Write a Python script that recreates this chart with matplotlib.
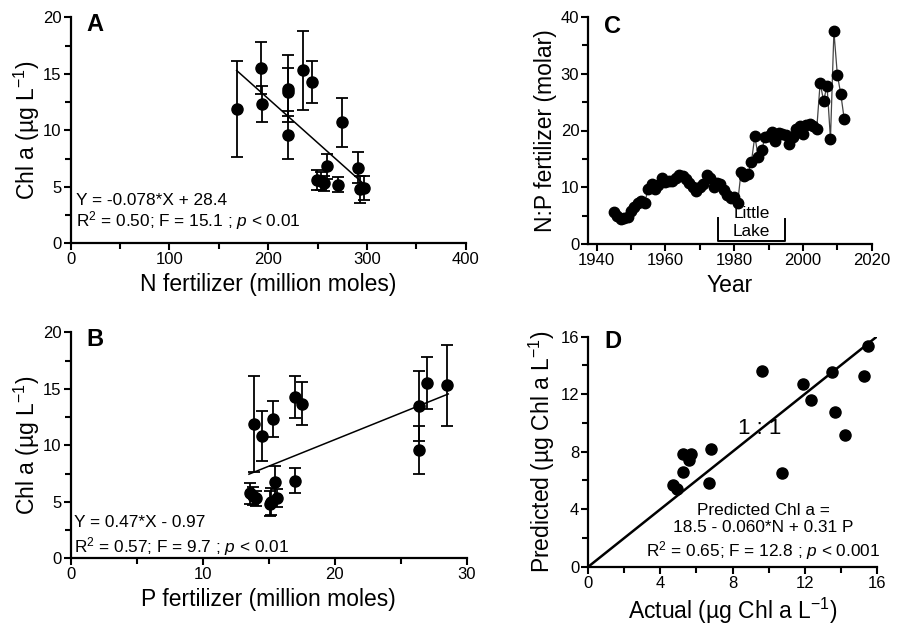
import numpy as np
import matplotlib
matplotlib.use("Agg")
import matplotlib.pyplot as plt
from matplotlib.ticker import MultipleLocator

plt.rcParams['font.family'] = ['Liberation Sans', 'DejaVu Sans']
plt.rcParams['mathtext.fontset'] = 'custom'
plt.rcParams['mathtext.rm'] = 'Liberation Sans'
plt.rcParams['mathtext.it'] = 'Liberation Sans:italic'

# Panel A: N fertilizer vs Chl a (mean +/- error)
n_fert = [168, 193, 194, 220, 220, 220, 235.5, 244.7, 249, 253.6, 256.6, 259, 270.7, 274.7, 290.6, 293, 296.5]
chl_a = [11.9, 15.5, 12.3, 13.7, 13.4, 9.6, 15.3, 14.3, 5.6, 5.5, 5.3, 6.8, 5.2, 10.7, 6.7, 4.8, 4.9]
chl_a_err = [4.25, 2.3, 1.6, 3.0, 2.1, 2.1, 3.5, 1.85, 0.9, 0.8, 0.7, 1.1, 0.7, 2.2, 1.4, 1.2, 1.1]
fit_a = (-0.078, 28.4)

# Panel B: P fertilizer vs Chl a
p_fert = [13.9, 14.5, 15.3, 17.0, 17.5, 26.4, 26.4, 27.0, 28.5, 13.6, 14.0, 15.1, 15.5, 15.6, 17.0, 13.8, 15.2]
chl_b = [11.9, 10.8, 12.35, 14.3, 13.7, 13.5, 9.6, 15.5, 15.3, 5.75, 5.3, 4.85, 6.75, 5.3, 6.85, 5.5, 5.0]
chl_b_err = [4.25, 2.2, 1.6, 1.85, 1.9, 3.1, 2.1, 2.3, 3.6, 0.9, 0.7, 1.1, 1.4, 0.8, 1.1, 0.8, 1.2]
fit_b = (0.47, 1.1)
fit_b_range = (13.5, 28.6)

# Panel C: N:P ratio of fertilizer by year
years = list(range(1945, 2013))
np_ratio = [5.6, 5.0, 4.4, 4.7, 4.8, 5.8, 6.6, 7.2, 7.6, 7.3,
            9.8, 10.6, 9.8, 10.4, 11.6, 11.0, 11.2, 11.2, 11.6, 12.2,
            12.0, 11.4, 10.8, 10.0, 9.4, 10.0, 10.6, 12.2, 11.6, 10.0,
            10.8, 10.6, 9.6, 8.6, 8.2, 8.4, 7.2, 12.7, 12.0, 12.4,
            14.4, 19.0, 15.4, 16.6, 18.8, 19.0, 19.8, 18.2, 19.6, 19.4,
            19.2, 17.6, 18.8, 20.2, 20.8, 19.4, 21.0, 21.2, 20.8, 20.2,
            28.4, 25.2, 27.9, 18.5, 37.4, 29.8, 26.4, 22.0]
little_lake = (1975.4, 1994.8)

# Panel D: actual vs predicted Chl a
actual = [4.72, 4.9, 5.24, 5.24, 5.6, 5.68, 6.7, 6.79, 9.62, 10.73, 11.9, 12.34, 13.5, 13.69, 14.26, 15.32, 15.5]
predicted = [5.68, 5.38, 6.61, 7.84, 7.42, 7.82, 5.85, 8.19, 13.6, 6.5, 12.7, 11.6, 13.57, 10.78, 9.16, 13.27, 15.35]

TICK_FS = 12
LABEL_FS = 16.5
NOTE_FS = 12.4


def style(ax, xmaj, xmin, ymaj, ymin):
    for s in ['top', 'right']:
        ax.spines[s].set_visible(False)
    for s in ['left', 'bottom']:
        ax.spines[s].set_linewidth(1.6)
    ax.xaxis.set_major_locator(MultipleLocator(xmaj))
    ax.xaxis.set_minor_locator(MultipleLocator(xmin))
    ax.yaxis.set_major_locator(MultipleLocator(ymaj))
    ax.yaxis.set_minor_locator(MultipleLocator(ymin))
    ax.tick_params(which='major', direction='out', length=5, width=1.5, labelsize=TICK_FS, pad=1.5)
    ax.tick_params(which='minor', direction='out', length=4, width=1.5)


fig = plt.figure(figsize=(9, 6.25), dpi=100)

# A
axA = fig.add_axes([0.0786, 0.6107, 0.4389, 0.3616])
axA.errorbar(n_fert, chl_a, yerr=chl_a_err, fmt='o', color='black', ms=8,
             capsize=4.5, elinewidth=1.3, capthick=1.3)
xa = np.array([min(n_fert), max(n_fert)])
axA.plot(xa, fit_a[0] * xa + fit_a[1], color='black', lw=1.1)
axA.set_xlim(0, 400)
axA.set_ylim(0, 20)
style(axA, 100, 50, 5, 2.5)
axA.set_xlabel('N fertilizer (million moles)', fontsize=LABEL_FS, labelpad=4)
axA.set_ylabel(r'Chl a (µg L$^{-1}$)', fontsize=LABEL_FS, labelpad=1)
axA.text(5, 3.8, 'Y = -0.078*X + 28.4', fontsize=NOTE_FS, va='center')
axA.text(5, 2.0, r'R$^2$ = 0.50; F = 15.1 ; $\it{p}$ < 0.01', fontsize=NOTE_FS, va='center')
axA.text(0.062, 0.97, 'A', transform=axA.transAxes, fontsize=17, fontweight='bold', ha='center', va='center')

# B
axB = fig.add_axes([0.0786, 0.1067, 0.44, 0.3616])
axB.errorbar(p_fert, chl_b, yerr=chl_b_err, fmt='o', color='black', ms=8,
             capsize=4.5, elinewidth=1.3, capthick=1.3)
xb = np.array(fit_b_range)
axB.plot(xb, fit_b[0] * xb + fit_b[1], color='black', lw=1.1)
axB.set_xlim(0, 30)
axB.set_ylim(0, 20)
style(axB, 10, 5, 5, 2.5)
axB.set_xlabel('P fertilizer (million moles)', fontsize=LABEL_FS, labelpad=4)
axB.set_ylabel(r'Chl a (µg L$^{-1}$)', fontsize=LABEL_FS, labelpad=1)
axB.text(0.25, 3.15, 'Y = 0.47*X - 0.97', fontsize=NOTE_FS, va='center')
axB.text(0.25, 1.05, r'R$^2$ = 0.57; F = 9.7 ; $\it{p}$ < 0.01', fontsize=NOTE_FS, va='center')
axB.text(0.062, 0.97, 'B', transform=axB.transAxes, fontsize=17, fontweight='bold', ha='center', va='center')

# C
axC = fig.add_axes([0.6537, 0.6091, 0.3149, 0.3642])
axC.plot(years, np_ratio, '-', color='#444444', lw=0.9)
axC.plot(years, np_ratio, 'o', color='black', ms=7.5)
axC.plot([little_lake[0], little_lake[0], little_lake[1], little_lake[1]],
         [4.6, 0.6, 0.6, 4.4], color='black', lw=1.4)
axC.text(sum(little_lake) / 2, 3.8, 'Little\nLake', fontsize=NOTE_FS, ha='center', va='center',
         linespacing=1.2)
axC.set_xlim(1937.6, 2020)
axC.set_ylim(0, 40)
style(axC, 20, 10, 10, 5)
axC.set_xlabel('Year', fontsize=LABEL_FS, labelpad=4)
axC.set_ylabel('N:P fertilizer (molar)', fontsize=LABEL_FS, labelpad=3)
axC.text(0.085, 0.955, 'C', transform=axC.transAxes, fontsize=17, fontweight='bold', ha='center', va='center')

# D
axD = fig.add_axes([0.6537, 0.0933, 0.3204, 0.368])
axD.plot([0, 16], [0, 16], color='black', lw=1.8)
axD.plot(actual, predicted, 'o', color='black', ms=8)
axD.text(9.5, 9.6, '1 : 1', fontsize=16, ha='center', va='center')
axD.text(9.7, 2.4, 'Predicted Chl a =\n18.5 - 0.060*N + 0.31 P\n'
         r'R$^2$ = 0.65; F = 12.8 ; $\it{p}$ < 0.001',
         fontsize=NOTE_FS, ha='center', va='center', linespacing=1.2)
axD.set_xlim(0, 16)
axD.set_ylim(0, 16)
style(axD, 4, 2, 4, 2)
axD.set_xlabel(r'Actual (µg Chl a L$^{-1}$)', fontsize=LABEL_FS, labelpad=4)
axD.set_ylabel(r'Predicted (µg Chl a L$^{-1}$)', fontsize=LABEL_FS, labelpad=3)
axD.text(0.085, 0.98, 'D', transform=axD.transAxes, fontsize=17, fontweight='bold', ha='center', va='center')

fig.savefig('out.png', dpi=100)
